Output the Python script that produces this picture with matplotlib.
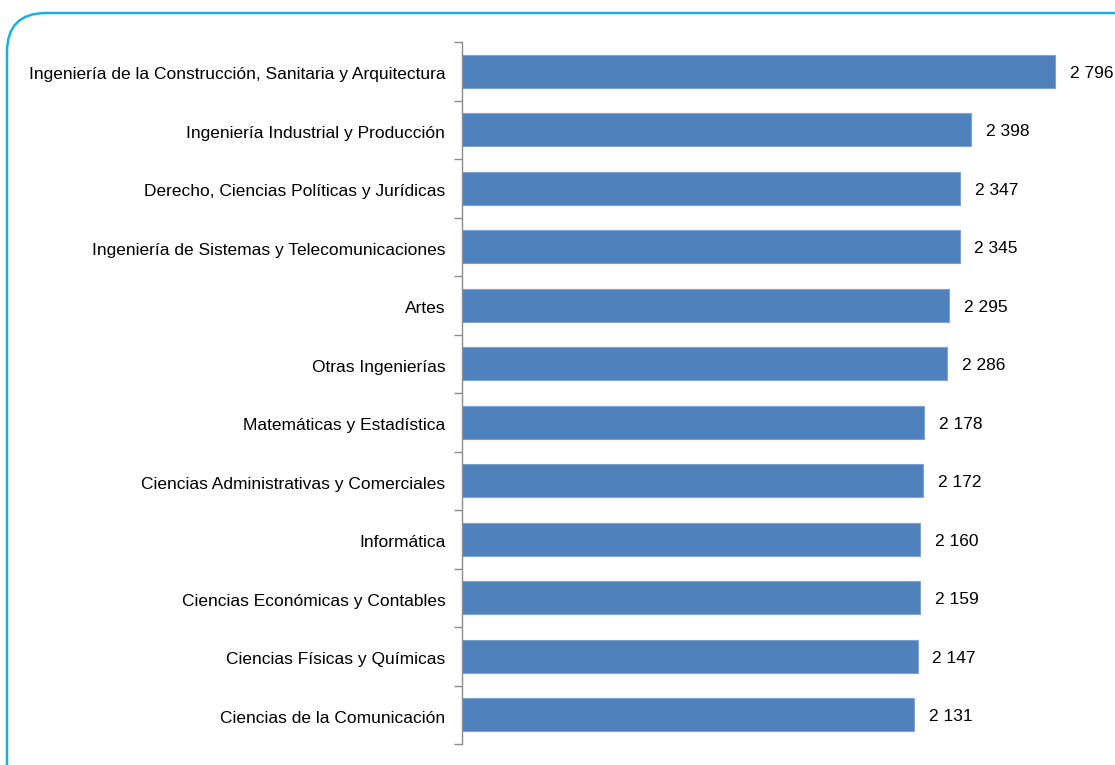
import matplotlib
matplotlib.use("Agg")
import matplotlib.pyplot as plt
from matplotlib.patches import FancyBboxPatch
import numpy as np

categories = [
    "Ingeniería de la Construcción, Sanitaria y Arquitectura",
    "Ingeniería Industrial y Producción",
    "Derecho, Ciencias Políticas y Jurídicas",
    "Ingeniería de Sistemas y Telecomunicaciones",
    "Artes",
    "Otras Ingenierías",
    "Matemáticas y Estadística",
    "Ciencias Administrativas y Comerciales",
    "Informática",
    "Ciencias Económicas y Contables",
    "Ciencias Físicas y Químicas",
    "Ciencias de la Comunicación",
]
values = [2796, 2398, 2347, 2345, 2295, 2286, 2178, 2172, 2160, 2159, 2147, 2131]

plt.rcParams['font.family'] = ['Liberation Sans Narrow', 'Liberation Sans', 'DejaVu Sans']

W, H = 1115, 765
fig = plt.figure(figsize=(W/100, H/100), dpi=100)

# rounded border, cut off at right and bottom
border = FancyBboxPatch((7/W, -40/H), (W + 40)/W, (H + 40 - 13)/H,
                        boxstyle="round,pad=0,rounding_size=0.035",
                        transform=fig.transFigure, fill=False,
                        edgecolor="#1AAEE6", linewidth=1.8, mutation_aspect=W/H)
fig.patches.append(border)

ax = fig.add_axes([462/W, 1 - 744/H, 640/W, 702/H])
y = np.arange(len(categories))
ax.barh(y, values, height=0.57, color="#4F81BD", edgecolor="#7FA3D0", linewidth=0.8)
ax.set_ylim(len(categories) - 0.5, -0.5)
ax.set_xlim(0, 640 / 0.2122)

for yi, v in zip(y, values):
    ax.text(v + 70, yi + 0.03, f"{v // 1000} {v % 1000:03d}", va="center", ha="left", fontsize=12.5)

ax.set_yticks(y + 0.03)
ax.set_yticklabels(categories, fontsize=12.5)
ax.set_yticks(np.arange(len(categories) + 1) - 0.5, minor=True)
ax.tick_params(axis="y", which="major", length=0, pad=12)
ax.tick_params(axis="y", which="minor", length=6, color="#8C8C8C", width=1)
ax.set_xticks([])
for s in ["top", "right", "bottom"]:
    ax.spines[s].set_visible(False)
ax.spines["left"].set_color("#8C8C8C")
ax.spines["left"].set_linewidth(1)

fig.savefig("out.png", dpi=100)
